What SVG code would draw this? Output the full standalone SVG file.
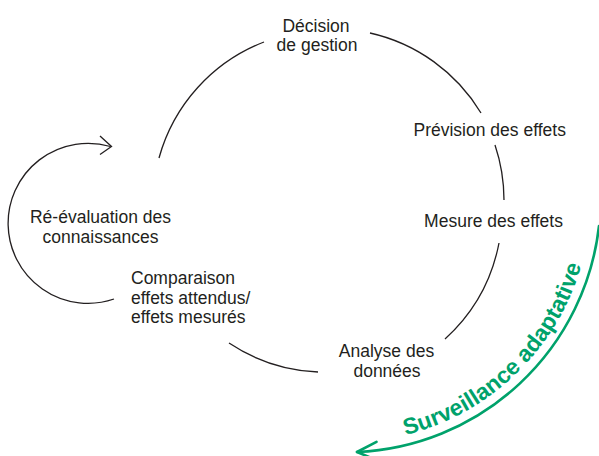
<svg xmlns="http://www.w3.org/2000/svg" width="599" height="456" viewBox="0 0 599 456">
<style>
.lbl{font-family:"Liberation Sans",Arial,sans-serif;font-size:17.5px;fill:#231f20}
.mid{text-anchor:middle}
.arc{fill:none;stroke:#231f20;stroke-width:1.3}
.grn{fill:none;stroke:#00a26b;stroke-width:2.6;stroke-linecap:round;stroke-linejoin:round}
.gtxt{font-family:"Liberation Sans",Arial,sans-serif;font-weight:bold;font-size:23px;fill:#00a26b}
</style>
<defs>
<path id="tp" d="M380.1,440.1 A245,245 0 0 0 588.6,231.6"/>
</defs>
<g id="connectors">
<path class="arc" d="M159,158 A174,174 0 0 1 264,42"/>
<path class="arc" d="M370,33 A174,174 0 0 1 481,113"/>
<path class="arc" d="M495,145 A174,174 0 0 1 504,200"/>
<path class="arc" d="M499,243 A174,174 0 0 1 445,339"/>
<path class="arc" d="M318,372 A174,174 0 0 1 229,343"/>
<path class="arc" d="M114,299 A80,80 0 1 1 110.5,146.5"/>
<path class="arc" d="M100,136 L111.5,146.5 L100,154.5"/>
<path class="grn" d="M599,226 A255,255 0 0 1 357,452"/>
<path class="grn" d="M376.5,441.8 L357,452 L377.3,460.4"/>
</g>
<g id="decision"><text class="lbl mid" x="316" y="31.5">Décision</text><text class="lbl mid" x="317" y="50.5">de gestion</text></g>
<g id="prevision"><text class="lbl mid" x="489.7" y="135.5">Prévision des effets</text></g>
<g id="mesure"><text class="lbl mid" x="493.5" y="226.5">Mesure des effets</text></g>
<g id="analyse"><text class="lbl mid" x="386.5" y="356.5">Analyse des</text><text class="lbl mid" x="387" y="376.5">données</text></g>
<g id="comparaison"><text class="lbl" x="131" y="284">Comparaison</text><text class="lbl" x="131" y="303.5">effets attendus/</text><text class="lbl" x="131" y="323">effets mesurés</text></g>
<g id="reevaluation"><text class="lbl mid" x="100.5" y="222.5">Ré-évaluation des</text><text class="lbl mid" x="100.5" y="242.5">connaissances</text></g>
<g id="surveillance"><text class="gtxt"><textPath href="#tp" startOffset="26">Surveillance adaptative</textPath></text></g>
</svg>
